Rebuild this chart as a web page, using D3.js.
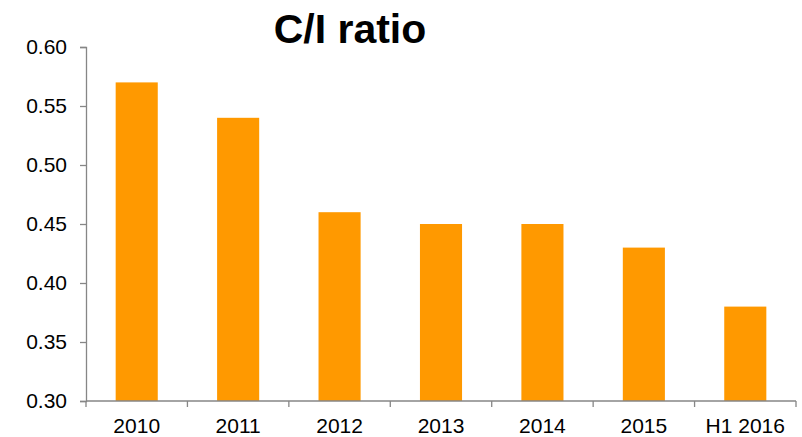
<!DOCTYPE html>
<html>
<head>
<meta charset="utf-8">
<script src="https://cdn.jsdelivr.net/npm/d3@7/dist/d3.min.js"></script>
<style>
  html, body { margin: 0; padding: 0; background: #fff; }
  svg { display: block; }
  text { font-family: "Liberation Sans", Arial, sans-serif; fill: #000; }
</style>
</head>
<body>
<svg id="chart" width="802" height="437"></svg>
<script>
// Cost / income ratio by period
const categories = ["2010", "2011", "2012", "2013", "2014", "2015", "H1 2016"];
const ratios = [0.57, 0.54, 0.46, 0.45, 0.45, 0.43, 0.38];
const yTicks = [0.30, 0.35, 0.40, 0.45, 0.50, 0.55, 0.60];
const title = "C/I ratio";

const svg = d3.select("#chart");
const margin = { left: 86, right: 6, top: 47, bottom: 36 };
const width = 802, height = 437;
const plotBottom = height - margin.bottom;

const x = d3.scaleBand()
  .domain(categories)
  .range([margin.left, width - margin.right])
  .paddingInner(0.585)
  .paddingOuter(0.2925);

const y = d3.scaleLinear()
  .domain([0.30, 0.60])
  .range([plotBottom, margin.top]);

const axisColor = "#868686";

// Bars
svg.append("g")
  .selectAll("rect")
  .data(categories.map((c, i) => ({ c, v: ratios[i] })))
  .join("rect")
  .attr("x", d => x(d.c))
  .attr("width", x.bandwidth())
  .attr("y", d => y(d.v))
  .attr("height", d => y(0.30) - y(d.v))
  .attr("fill", "#FF9900");

// Y axis
const yAxis = svg.append("g")
  .attr("transform", `translate(${margin.left},0)`)
  .call(d3.axisLeft(y).tickValues(yTicks).tickFormat(d3.format(".2f")).tickSize(6).tickPadding(13));
yAxis.select(".domain").attr("stroke", axisColor).attr("stroke-width", 1.3);
yAxis.selectAll(".tick line").attr("stroke", axisColor).attr("stroke-width", 1.3);
yAxis.selectAll(".tick text")
  .attr("font-size", 21)
  .attr("font-family", "Liberation Sans, Arial, sans-serif")
  .attr("fill", "#000");

// X axis: baseline with ticks at category boundaries
const step = x.step();
const x0 = margin.left;
const xg = svg.append("g");
xg.append("line")
  .attr("x1", x0).attr("x2", x0 + step * categories.length)
  .attr("y1", plotBottom).attr("y2", plotBottom)
  .attr("stroke", axisColor).attr("stroke-width", 1.3);
xg.selectAll("line.tk")
  .data(d3.range(categories.length + 1))
  .join("line")
  .attr("class", "tk")
  .attr("x1", i => x0 + i * step).attr("x2", i => x0 + i * step)
  .attr("y1", plotBottom).attr("y2", plotBottom + 6)
  .attr("stroke", axisColor).attr("stroke-width", 1.3);
xg.selectAll("text")
  .data(categories)
  .join("text")
  .attr("x", d => x(d) + x.bandwidth() / 2)
  .attr("y", plotBottom + 32)
  .attr("text-anchor", "middle")
  .attr("font-size", 21)
  .text(d => d);

// Title
svg.append("text")
  .attr("x", 350)
  .attr("y", 43)
  .attr("text-anchor", "middle")
  .attr("font-size", 41)
  .attr("font-weight", "bold")
  .text(title);
</script>
</body>
</html>
